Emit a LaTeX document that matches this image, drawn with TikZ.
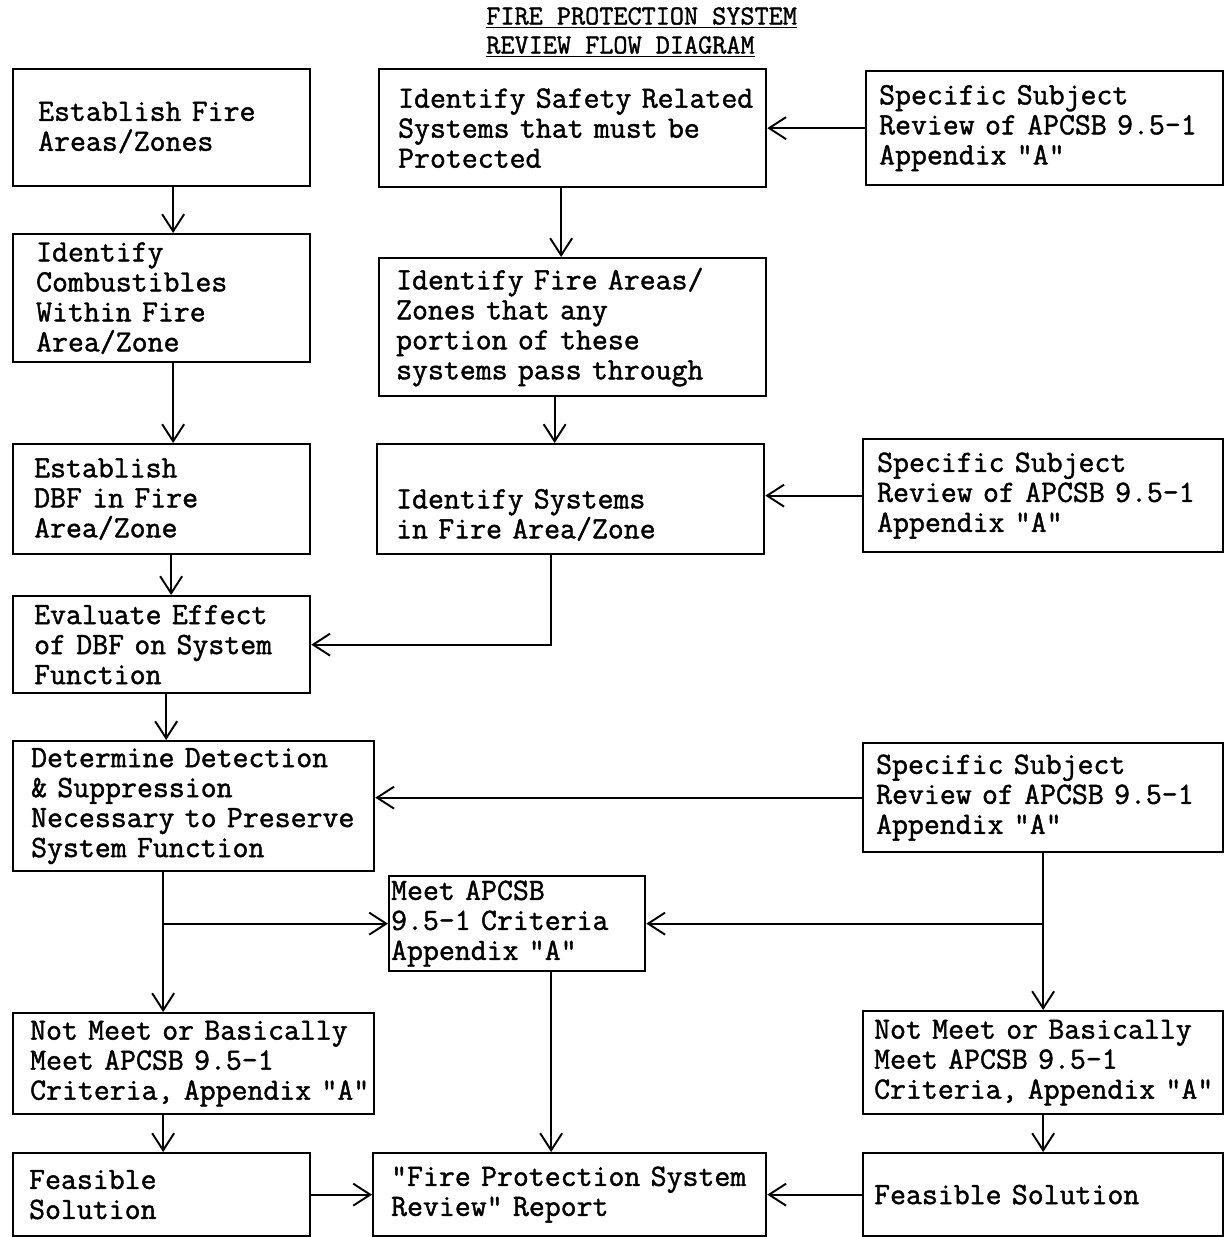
\documentclass[tikz,border=0pt]{standalone}
\usepackage{fontspec}
\setmonofont{Latin Modern Mono}[FakeBold=1.4]
\usepackage{tikz}
\usetikzlibrary{arrows.meta}

\begin{document}
\begin{tikzpicture}[
    box/.style={draw, line width=1.3pt, anchor=north west, align=left, inner ysep=0pt,
        font=\ttfamily\fontsize{17.6}{17.07}\selectfont},
    arr/.style={line width=1.1pt, -{Straight Barb[length=3.4mm,width=4.4mm,line width=1.1pt]}}
    ]
    \useasboundingbox (0,0) rectangle (24.5,-24.74);

    \node[anchor=north west, inner sep=0pt, align=left, font=\ttfamily\fontsize{15.6}{16.5}\selectfont] (title) at (9.72,-0.14)
        {\underline{FIRE PROTECTION SYSTEM}\\\underline{REVIEW FLOW DIAGRAM}};

    \node[box, minimum width=5.94cm, minimum height=2.34cm, inner xsep=0.50cm, text width=4.94cm] (estab) at (0.24,-1.36)
        {Establish Fire\\Areas/Zones};
    \node[box, minimum width=7.74cm, minimum height=2.36cm, inner xsep=0.38cm, text width=6.98cm] (safety) at (7.56,-1.36)
        {\mbox{Identify Safety Related}\\Systems that must be\\Protected};
    \node[box, minimum width=7.14cm, minimum height=2.28cm, inner xsep=0.26cm, text width=6.62cm] (subj1) at (17.30,-1.40)
        {Specific Subject\\Review of APCSB 9.5-1\\Appendix "A"};

    \node[box, minimum width=5.94cm, minimum height=2.56cm, inner xsep=0.46cm, text width=5.02cm] (comb) at (0.24,-4.66)
        {Identify\\Combustibles\\Within Fire\\Area/Zone};
    \node[box, minimum width=7.74cm, minimum height=2.76cm, inner xsep=0.34cm, text width=7.06cm] (areas) at (7.56,-5.14)
        {Identify Fire Areas/\\Zones that any\\portion of these\\systems pass through};

    \node[box, minimum width=5.94cm, minimum height=2.20cm, inner xsep=0.42cm, text width=5.10cm] (dbf) at (0.24,-8.86)
        {Establish\\DBF in Fire\\Area/Zone};
    \node[box, minimum width=7.74cm, minimum height=2.20cm, inner xsep=0.38cm, text width=6.98cm] (systems) at (7.52,-8.86)
        {\strut\\Identify Systems\\in Fire Area/Zone};
    \node[box, minimum width=7.20cm, minimum height=2.26cm, inner xsep=0.28cm, text width=6.64cm] (subj2) at (17.24,-8.76)
        {Specific Subject\\Review of APCSB 9.5-1\\Appendix "A"};

    \node[box, minimum width=5.94cm, minimum height=1.94cm, inner xsep=0.42cm, text width=5.10cm] (effect) at (0.24,-11.90)
        {Evaluate Effect\\of DBF on System\\Function};

    \node[box, minimum width=7.22cm, minimum height=2.60cm, inner xsep=0.36cm, text width=6.50cm] (detect) at (0.24,-14.80)
        {Determine Detection\\\& Suppression\\\mbox{Necessary to Preserve}\\System Function};
    \node[box, minimum width=7.20cm, minimum height=2.18cm, inner xsep=0.26cm, text width=6.68cm] (subj3) at (17.24,-14.84)
        {Specific Subject\\Review of APCSB 9.5-1\\Appendix "A"};

    \node[box, minimum width=5.12cm, minimum height=1.90cm, inner xsep=0.04cm, text width=5.04cm] (meet) at (7.76,-17.50)
        {Meet APCSB\\9.5-1 Criteria\\Appendix "A"};

    \node[box, minimum width=7.22cm, minimum height=2.02cm, inner xsep=0.34cm, text width=6.54cm] (notl) at (0.24,-20.24)
        {Not Meet or Basically\\Meet APCSB 9.5-1\\\mbox{Criteria, Appendix "A"}};
    \node[box, minimum width=7.20cm, minimum height=2.06cm, inner xsep=0.22cm, text width=6.76cm] (notr) at (17.24,-20.20)
        {Not Meet or Basically\\Meet APCSB 9.5-1\\\mbox{Criteria, Appendix "A"}};

    \node[box, minimum width=5.94cm, minimum height=1.66cm, inner xsep=0.32cm, text width=5.30cm] (feasl) at (0.24,-23.04)
        {Feasible\\Solution};
    \node[box, minimum width=7.86cm, minimum height=1.66cm, inner xsep=0.36cm, text width=7.14cm] (report) at (7.44,-23.04)
        {\mbox{"Fire Protection System}\\Review" Report};
    \node[box, minimum width=7.20cm, minimum height=1.66cm, inner xsep=0.22cm, text width=6.76cm] (feasr) at (17.24,-23.04)
        {Feasible Solution};

    \draw[arr] ([xshift=0.23cm]estab.south) -- ([xshift=0.23cm]estab.south |- comb.north);
    \draw[arr] (subj1.west) -- (subj1.west -| safety.east);
    \draw[arr] ([xshift=-0.23cm]safety.south) -- ([xshift=-0.23cm]safety.south |- areas.north);
    \draw[arr] ([xshift=0.23cm]comb.south) -- ([xshift=0.23cm]comb.south |- dbf.north);
    \draw[arr] ([xshift=-0.36cm]areas.south) -- ([xshift=-0.36cm]areas.south |- systems.north);
    \draw[arr] (subj2.west) -- (subj2.west -| systems.east);
    \draw[arr] ([xshift=0.19cm]dbf.south) -- ([xshift=0.19cm]dbf.south |- effect.north);
    \draw[arr] ([xshift=-0.39cm]systems.south) |- (effect.east);
    \draw[arr] ([xshift=0.09cm]effect.south) -- ([xshift=0.09cm]effect.south |- detect.north);
    \draw[arr] (subj3.west) -- (subj3.west -| detect.east);

    \coordinate (splitl) at ([xshift=-0.61cm]detect.south |- meet.west);
    \coordinate (splitr) at (subj3.south |- meet.east);
    \draw[arr] ([xshift=-0.61cm]detect.south) -- ([xshift=-0.61cm]detect.south |- notl.north);
    \draw[arr] (splitl) -- (meet.west);
    \draw[arr] (subj3.south) -- (subj3.south |- notr.north);
    \draw[arr] (splitr) -- (meet.east);
    \draw[arr] ([xshift=0.68cm]meet.south) -- ([xshift=0.68cm]meet.south |- report.north);

    \draw[arr] ([xshift=-0.61cm]notl.south) -- ([xshift=-0.61cm]notl.south |- feasl.north);
    \draw[arr] (notr.south) -- (notr.south |- feasr.north);
    \draw[arr] (feasl.east) -- (report.west);
    \draw[arr] (feasr.west) -- (report.east);
\end{tikzpicture}
\end{document}
